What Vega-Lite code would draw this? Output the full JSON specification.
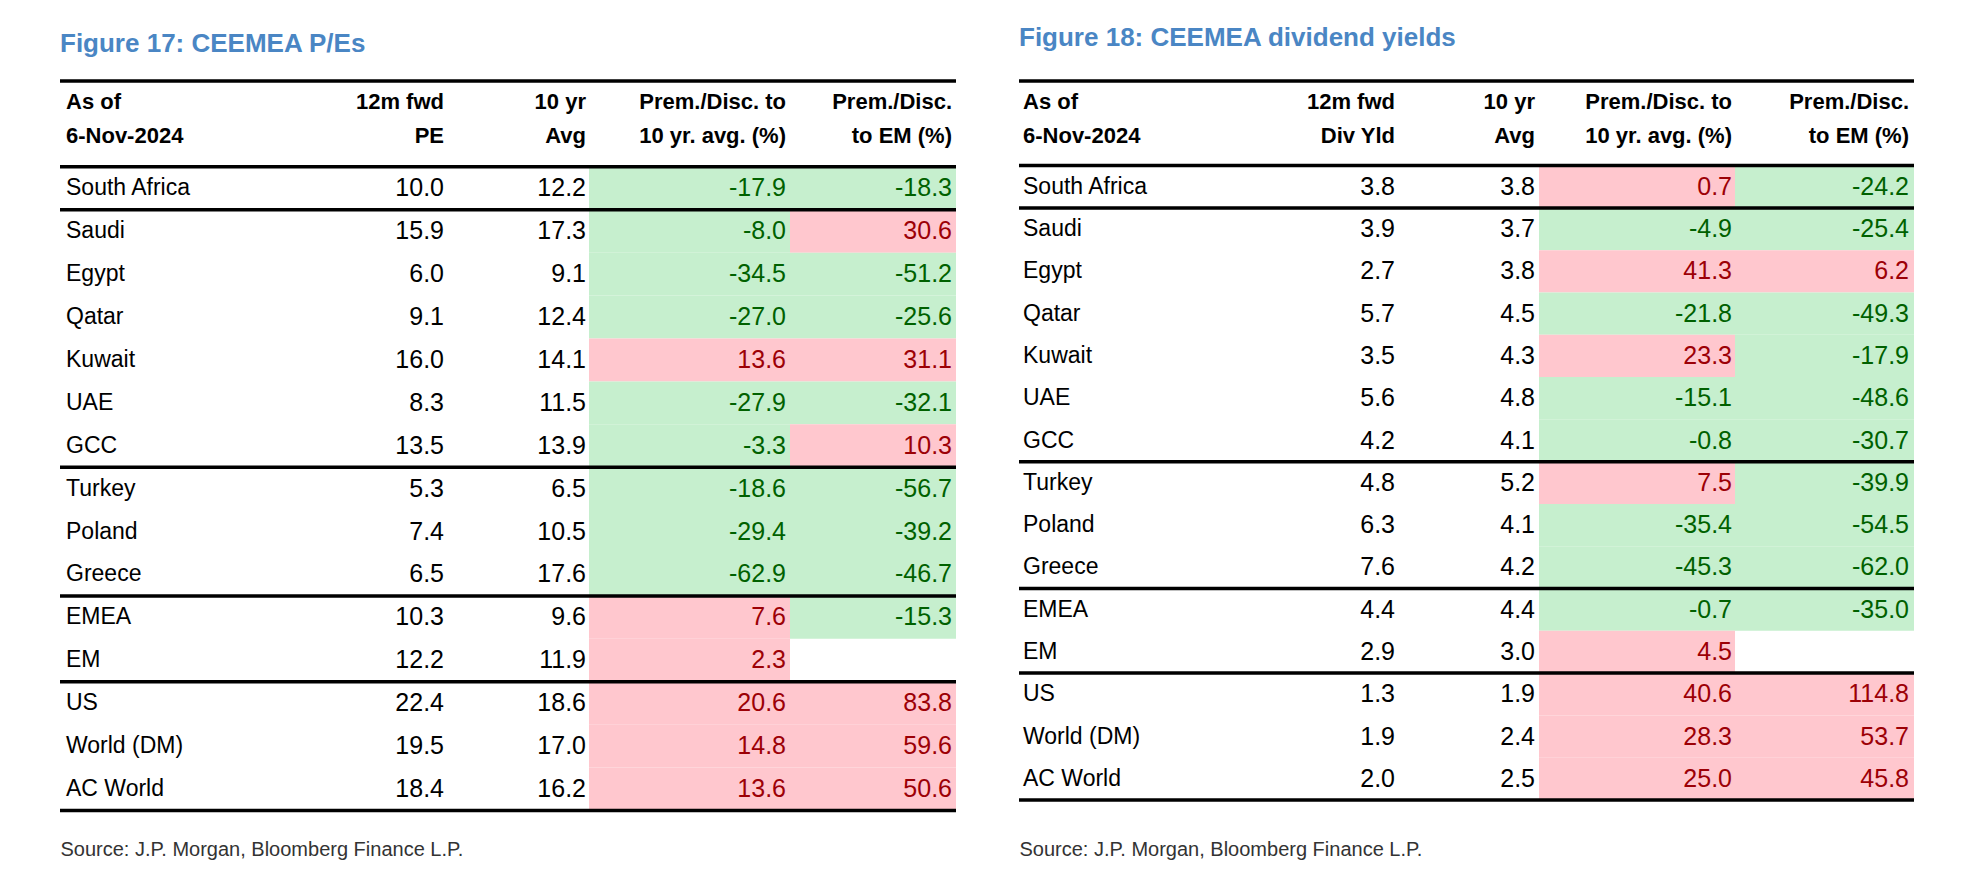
{
  "$schema": "https://vega.github.io/schema/vega-lite/v6.json",
  "background": "white",
  "padding": {"left": 58, "top": 25, "right": 5, "bottom": 5},
  "config": {
    "view": {"stroke": null},
    "font": "Liberation Sans",
    "text": {"font": "Liberation Sans", "fontSize": 25},
    "title": {"font": "Liberation Sans"},
    "axis": {"labelFont": "Liberation Sans", "titleFont": "Liberation Sans"}
  },
  "datasets": {
    "pe": [
      {"country": "South Africa", "fwd": 10.0, "avg": 12.2, "prem10": -17.9, "premEM": -18.3},
      {"country": "Saudi", "fwd": 15.9, "avg": 17.3, "prem10": -8.0, "premEM": 30.6},
      {"country": "Egypt", "fwd": 6.0, "avg": 9.1, "prem10": -34.5, "premEM": -51.2},
      {"country": "Qatar", "fwd": 9.1, "avg": 12.4, "prem10": -27.0, "premEM": -25.6},
      {"country": "Kuwait", "fwd": 16.0, "avg": 14.1, "prem10": 13.6, "premEM": 31.1},
      {"country": "UAE", "fwd": 8.3, "avg": 11.5, "prem10": -27.9, "premEM": -32.1},
      {"country": "GCC", "fwd": 13.5, "avg": 13.9, "prem10": -3.3, "premEM": 10.3},
      {"country": "Turkey", "fwd": 5.3, "avg": 6.5, "prem10": -18.6, "premEM": -56.7},
      {"country": "Poland", "fwd": 7.4, "avg": 10.5, "prem10": -29.4, "premEM": -39.2},
      {"country": "Greece", "fwd": 6.5, "avg": 17.6, "prem10": -62.9, "premEM": -46.7},
      {"country": "EMEA", "fwd": 10.3, "avg": 9.6, "prem10": 7.6, "premEM": -15.3},
      {"country": "EM", "fwd": 12.2, "avg": 11.9, "prem10": 2.3, "premEM": null},
      {"country": "US", "fwd": 22.4, "avg": 18.6, "prem10": 20.6, "premEM": 83.8},
      {"country": "World (DM)", "fwd": 19.5, "avg": 17.0, "prem10": 14.8, "premEM": 59.6},
      {"country": "AC World", "fwd": 18.4, "avg": 16.2, "prem10": 13.6, "premEM": 50.6}
    ],
    "dy": [
      {"country": "South Africa", "fwd": 3.8, "avg": 3.8, "prem10": 0.7, "premEM": -24.2},
      {"country": "Saudi", "fwd": 3.9, "avg": 3.7, "prem10": -4.9, "premEM": -25.4},
      {"country": "Egypt", "fwd": 2.7, "avg": 3.8, "prem10": 41.3, "premEM": 6.2},
      {"country": "Qatar", "fwd": 5.7, "avg": 4.5, "prem10": -21.8, "premEM": -49.3},
      {"country": "Kuwait", "fwd": 3.5, "avg": 4.3, "prem10": 23.3, "premEM": -17.9},
      {"country": "UAE", "fwd": 5.6, "avg": 4.8, "prem10": -15.1, "premEM": -48.6},
      {"country": "GCC", "fwd": 4.2, "avg": 4.1, "prem10": -0.8, "premEM": -30.7},
      {"country": "Turkey", "fwd": 4.8, "avg": 5.2, "prem10": 7.5, "premEM": -39.9},
      {"country": "Poland", "fwd": 6.3, "avg": 4.1, "prem10": -35.4, "premEM": -54.5},
      {"country": "Greece", "fwd": 7.6, "avg": 4.2, "prem10": -45.3, "premEM": -62.0},
      {"country": "EMEA", "fwd": 4.4, "avg": 4.4, "prem10": -0.7, "premEM": -35.0},
      {"country": "EM", "fwd": 2.9, "avg": 3.0, "prem10": 4.5, "premEM": null},
      {"country": "US", "fwd": 1.3, "avg": 1.9, "prem10": 40.6, "premEM": 114.8},
      {"country": "World (DM)", "fwd": 1.9, "avg": 2.4, "prem10": 28.3, "premEM": 53.7},
      {"country": "AC World", "fwd": 2.0, "avg": 2.5, "prem10": 25.0, "premEM": 45.8}
    ],
    "rules": [
      {"row": "h1"},
      {"row": "South Africa"},
      {"row": "Saudi"},
      {"row": "Turkey"},
      {"row": "EMEA"},
      {"row": "US"}
    ],
    "bottom": [{"row": "AC World"}],
    "head": [{"row": "h1"}]
  },
  "bounds": "flush",
  "spacing": 0,
  "resolve": {"scale": {"x": "independent", "y": "independent"}},
  "hconcat": [
    {
      "width": 204, "height": 729.5,
      "title": {"text": "Figure 17: CEEMEA P/Es", "anchor": "start", "fontSize": 26, "fontWeight": "bold", "color": "#4a86c4", "offset": 22, "frame": "group"},
      "layer": [
        {"data": {"name": "pe"}, "mark": {"type": "text", "align": "left", "baseline": "middle", "dx": 6, "fontSize": 23, "color": "#000"},
         "encoding": {"y": {"field": "country", "type": "nominal", "axis": null, "scale": {"domain": ["h1","h2","South Africa","Saudi","Egypt","Qatar","Kuwait","UAE","GCC","Turkey","Poland","Greece","EMEA","EM","US","World (DM)","AC World"], "paddingInner": 0, "paddingOuter": 0}},
           "x": {"datum": 0, "type": "quantitative", "scale": {"domain": [0, 1]},
             "axis": {"orient": "bottom", "labels": false, "ticks": false, "domain": false, "grid": false, "title": "Source: J.P. Morgan, Bloomberg Finance L.P.", "titleAnchor": "start", "titleAlign": "left", "titleBaseline": "top", "titlePadding": 29, "titleFontSize": 20, "titleFontWeight": "normal", "titleColor": "#333"}},
           "text": {"field": "country", "type": "nominal"}}},
        {"data": {"name": "head"}, "mark": {"type": "text", "align": "left", "baseline": "middle", "dx": 6, "fontSize": 22, "lineHeight": 34, "fontWeight": "bold", "color": "#000", "text": ["As of", "6-Nov-2024"]},
         "encoding": {"y": {"field": "row", "type": "nominal", "bandPosition": 0.5}, "x": {"datum": 0, "type": "quantitative"}}},
        {"data": {"name": "rules"}, "mark": {"type": "rule", "strokeWidth": 3.5, "color": "#000"}, "encoding": {"y": {"field": "row", "type": "nominal", "bandPosition": 0}}},
        {"data": {"name": "bottom"}, "mark": {"type": "rule", "strokeWidth": 3.5, "color": "#000"}, "encoding": {"y": {"field": "row", "type": "nominal", "bandPosition": 1}}}
      ]
    },
    {
      "width": 183, "height": 729.5,
      "layer": [
        {"data": {"name": "pe"}, "mark": {"type": "text", "align": "right", "baseline": "middle", "dx": -3, "color": "#000"},
         "encoding": {"y": {"field": "country", "type": "nominal", "axis": null, "scale": {"domain": ["h1","h2","South Africa","Saudi","Egypt","Qatar","Kuwait","UAE","GCC","Turkey","Poland","Greece","EMEA","EM","US","World (DM)","AC World"], "paddingInner": 0, "paddingOuter": 0}},
           "x": {"datum": 1, "type": "quantitative", "axis": null, "scale": {"domain": [0, 1]}},
           "text": {"field": "fwd", "type": "quantitative", "format": ".1f"}}},
        {"data": {"name": "head"}, "mark": {"type": "text", "align": "right", "baseline": "middle", "dx": -3, "fontSize": 22, "lineHeight": 34, "fontWeight": "bold", "color": "#000", "text": ["12m fwd", "PE"]},
         "encoding": {"y": {"field": "row", "type": "nominal", "bandPosition": 0.5}, "x": {"datum": 1, "type": "quantitative"}}},
        {"data": {"name": "rules"}, "mark": {"type": "rule", "strokeWidth": 3.5, "color": "#000"}, "encoding": {"y": {"field": "row", "type": "nominal", "bandPosition": 0}}},
        {"data": {"name": "bottom"}, "mark": {"type": "rule", "strokeWidth": 3.5, "color": "#000"}, "encoding": {"y": {"field": "row", "type": "nominal", "bandPosition": 1}}}
      ]
    },
    {
      "width": 142, "height": 729.5,
      "layer": [
        {"data": {"name": "pe"}, "mark": {"type": "text", "align": "right", "baseline": "middle", "dx": -3, "color": "#000"},
         "encoding": {"y": {"field": "country", "type": "nominal", "axis": null, "scale": {"domain": ["h1","h2","South Africa","Saudi","Egypt","Qatar","Kuwait","UAE","GCC","Turkey","Poland","Greece","EMEA","EM","US","World (DM)","AC World"], "paddingInner": 0, "paddingOuter": 0}},
           "x": {"datum": 1, "type": "quantitative", "axis": null, "scale": {"domain": [0, 1]}},
           "text": {"field": "avg", "type": "quantitative", "format": ".1f"}}},
        {"data": {"name": "head"}, "mark": {"type": "text", "align": "right", "baseline": "middle", "dx": -3, "fontSize": 22, "lineHeight": 34, "fontWeight": "bold", "color": "#000", "text": ["10 yr", "Avg"]},
         "encoding": {"y": {"field": "row", "type": "nominal", "bandPosition": 0.5}, "x": {"datum": 1, "type": "quantitative"}}},
        {"data": {"name": "rules"}, "mark": {"type": "rule", "strokeWidth": 3.5, "color": "#000"}, "encoding": {"y": {"field": "row", "type": "nominal", "bandPosition": 0}}},
        {"data": {"name": "bottom"}, "mark": {"type": "rule", "strokeWidth": 3.5, "color": "#000"}, "encoding": {"y": {"field": "row", "type": "nominal", "bandPosition": 1}}}
      ]
    },
    {
      "width": 201, "height": 729.5,
      "layer": [
        {"data": {"name": "pe"}, "transform": [{"filter": "isValid(datum.prem10)"}], "mark": {"type": "rect"},
         "encoding": {"y": {"field": "country", "type": "nominal", "axis": null, "scale": {"domain": ["h1","h2","South Africa","Saudi","Egypt","Qatar","Kuwait","UAE","GCC","Turkey","Poland","Greece","EMEA","EM","US","World (DM)","AC World"], "paddingInner": 0, "paddingOuter": 0}},
           "x": {"datum": 0, "type": "quantitative", "axis": null, "scale": {"domain": [0, 1]}}, "x2": {"datum": 1},
           "fill": {"condition": {"test": "datum.prem10 < 0", "value": "#c6efce"}, "value": "#ffc7ce"}}},
        {"data": {"name": "pe"}, "transform": [{"filter": "isValid(datum.prem10)"}], "mark": {"type": "text", "align": "right", "baseline": "middle", "dx": -4, "text": {"expr": "replace(format(datum.prem10, '.1f'), '−', '-')"}},
         "encoding": {"y": {"field": "country", "type": "nominal"},
           "x": {"datum": 1, "type": "quantitative"},
           "color": {"condition": {"test": "datum.prem10 < 0", "value": "#006100"}, "value": "#9c0006"}}},
        {"data": {"name": "head"}, "mark": {"type": "text", "align": "right", "baseline": "middle", "dx": -4, "fontSize": 22, "lineHeight": 34, "fontWeight": "bold", "color": "#000", "text": ["Prem./Disc. to", "10 yr. avg. (%)"]},
         "encoding": {"y": {"field": "row", "type": "nominal", "bandPosition": 0.5}, "x": {"datum": 1, "type": "quantitative"}}},
        {"data": {"name": "rules"}, "mark": {"type": "rule", "strokeWidth": 3.5, "color": "#000"}, "encoding": {"y": {"field": "row", "type": "nominal", "bandPosition": 0}}},
        {"data": {"name": "bottom"}, "mark": {"type": "rule", "strokeWidth": 3.5, "color": "#000"}, "encoding": {"y": {"field": "row", "type": "nominal", "bandPosition": 1}}}
      ]
    },
    {
      "width": 166, "height": 729.5,
      "layer": [
        {"data": {"name": "pe"}, "transform": [{"filter": "isValid(datum.premEM)"}], "mark": {"type": "rect"},
         "encoding": {"y": {"field": "country", "type": "nominal", "axis": null, "scale": {"domain": ["h1","h2","South Africa","Saudi","Egypt","Qatar","Kuwait","UAE","GCC","Turkey","Poland","Greece","EMEA","EM","US","World (DM)","AC World"], "paddingInner": 0, "paddingOuter": 0}},
           "x": {"datum": 0, "type": "quantitative", "axis": null, "scale": {"domain": [0, 1]}}, "x2": {"datum": 1},
           "fill": {"condition": {"test": "datum.premEM < 0", "value": "#c6efce"}, "value": "#ffc7ce"}}},
        {"data": {"name": "pe"}, "transform": [{"filter": "isValid(datum.premEM)"}], "mark": {"type": "text", "align": "right", "baseline": "middle", "dx": -4, "text": {"expr": "replace(format(datum.premEM, '.1f'), '−', '-')"}},
         "encoding": {"y": {"field": "country", "type": "nominal"},
           "x": {"datum": 1, "type": "quantitative"},
           "color": {"condition": {"test": "datum.premEM < 0", "value": "#006100"}, "value": "#9c0006"}}},
        {"data": {"name": "head"}, "mark": {"type": "text", "align": "right", "baseline": "middle", "dx": -4, "fontSize": 22, "lineHeight": 34, "fontWeight": "bold", "color": "#000", "text": ["Prem./Disc.", "to EM (%)"]},
         "encoding": {"y": {"field": "row", "type": "nominal", "bandPosition": 0.5}, "x": {"datum": 1, "type": "quantitative"}}},
        {"data": {"name": "rules"}, "mark": {"type": "rule", "strokeWidth": 3.5, "color": "#000"}, "encoding": {"y": {"field": "row", "type": "nominal", "bandPosition": 0}}},
        {"data": {"name": "bottom"}, "mark": {"type": "rule", "strokeWidth": 3.5, "color": "#000"}, "encoding": {"y": {"field": "row", "type": "nominal", "bandPosition": 1}}}
      ]
    },
    {
      "width": 63, "height": 10,
      "data": {"values": []},
      "mark": {"type": "point"}
    },
    {
      "width": 193, "height": 719,
      "title": {"text": "Figure 18: CEEMEA dividend yields", "anchor": "start", "fontSize": 26, "fontWeight": "bold", "color": "#4a86c4", "offset": 28, "frame": "group"},
      "layer": [
        {"data": {"name": "dy"}, "mark": {"type": "text", "align": "left", "baseline": "middle", "dx": 4, "fontSize": 23, "color": "#000"},
         "encoding": {"y": {"field": "country", "type": "nominal", "axis": null, "scale": {"domain": ["h1","h2","South Africa","Saudi","Egypt","Qatar","Kuwait","UAE","GCC","Turkey","Poland","Greece","EMEA","EM","US","World (DM)","AC World"], "paddingInner": 0, "paddingOuter": 0}},
           "x": {"datum": 0, "type": "quantitative", "scale": {"domain": [0, 1]},
             "axis": {"orient": "bottom", "labels": false, "ticks": false, "domain": false, "grid": false, "title": "Source: J.P. Morgan, Bloomberg Finance L.P.", "titleAnchor": "start", "titleAlign": "left", "titleBaseline": "top", "titlePadding": 39, "titleFontSize": 20, "titleFontWeight": "normal", "titleColor": "#333"}},
           "text": {"field": "country", "type": "nominal"}}},
        {"data": {"name": "head"}, "mark": {"type": "text", "align": "left", "baseline": "middle", "dx": 4, "fontSize": 22, "lineHeight": 34, "fontWeight": "bold", "color": "#000", "text": ["As of", "6-Nov-2024"]},
         "encoding": {"y": {"field": "row", "type": "nominal", "bandPosition": 0.5}, "x": {"datum": 0, "type": "quantitative"}}},
        {"data": {"name": "rules"}, "mark": {"type": "rule", "strokeWidth": 3.5, "color": "#000"}, "encoding": {"y": {"field": "row", "type": "nominal", "bandPosition": 0}}},
        {"data": {"name": "bottom"}, "mark": {"type": "rule", "strokeWidth": 3.5, "color": "#000"}, "encoding": {"y": {"field": "row", "type": "nominal", "bandPosition": 1}}}
      ]
    },
    {
      "width": 186, "height": 719,
      "layer": [
        {"data": {"name": "dy"}, "mark": {"type": "text", "align": "right", "baseline": "middle", "dx": -3, "color": "#000"},
         "encoding": {"y": {"field": "country", "type": "nominal", "axis": null, "scale": {"domain": ["h1","h2","South Africa","Saudi","Egypt","Qatar","Kuwait","UAE","GCC","Turkey","Poland","Greece","EMEA","EM","US","World (DM)","AC World"], "paddingInner": 0, "paddingOuter": 0}},
           "x": {"datum": 1, "type": "quantitative", "axis": null, "scale": {"domain": [0, 1]}},
           "text": {"field": "fwd", "type": "quantitative", "format": ".1f"}}},
        {"data": {"name": "head"}, "mark": {"type": "text", "align": "right", "baseline": "middle", "dx": -3, "fontSize": 22, "lineHeight": 34, "fontWeight": "bold", "color": "#000", "text": ["12m fwd", "Div Yld"]},
         "encoding": {"y": {"field": "row", "type": "nominal", "bandPosition": 0.5}, "x": {"datum": 1, "type": "quantitative"}}},
        {"data": {"name": "rules"}, "mark": {"type": "rule", "strokeWidth": 3.5, "color": "#000"}, "encoding": {"y": {"field": "row", "type": "nominal", "bandPosition": 0}}},
        {"data": {"name": "bottom"}, "mark": {"type": "rule", "strokeWidth": 3.5, "color": "#000"}, "encoding": {"y": {"field": "row", "type": "nominal", "bandPosition": 1}}}
      ]
    },
    {
      "width": 141, "height": 719,
      "layer": [
        {"data": {"name": "dy"}, "mark": {"type": "text", "align": "right", "baseline": "middle", "dx": -4, "color": "#000"},
         "encoding": {"y": {"field": "country", "type": "nominal", "axis": null, "scale": {"domain": ["h1","h2","South Africa","Saudi","Egypt","Qatar","Kuwait","UAE","GCC","Turkey","Poland","Greece","EMEA","EM","US","World (DM)","AC World"], "paddingInner": 0, "paddingOuter": 0}},
           "x": {"datum": 1, "type": "quantitative", "axis": null, "scale": {"domain": [0, 1]}},
           "text": {"field": "avg", "type": "quantitative", "format": ".1f"}}},
        {"data": {"name": "head"}, "mark": {"type": "text", "align": "right", "baseline": "middle", "dx": -4, "fontSize": 22, "lineHeight": 34, "fontWeight": "bold", "color": "#000", "text": ["10 yr", "Avg"]},
         "encoding": {"y": {"field": "row", "type": "nominal", "bandPosition": 0.5}, "x": {"datum": 1, "type": "quantitative"}}},
        {"data": {"name": "rules"}, "mark": {"type": "rule", "strokeWidth": 3.5, "color": "#000"}, "encoding": {"y": {"field": "row", "type": "nominal", "bandPosition": 0}}},
        {"data": {"name": "bottom"}, "mark": {"type": "rule", "strokeWidth": 3.5, "color": "#000"}, "encoding": {"y": {"field": "row", "type": "nominal", "bandPosition": 1}}}
      ]
    },
    {
      "width": 196, "height": 719,
      "layer": [
        {"data": {"name": "dy"}, "transform": [{"filter": "isValid(datum.prem10)"}], "mark": {"type": "rect"},
         "encoding": {"y": {"field": "country", "type": "nominal", "axis": null, "scale": {"domain": ["h1","h2","South Africa","Saudi","Egypt","Qatar","Kuwait","UAE","GCC","Turkey","Poland","Greece","EMEA","EM","US","World (DM)","AC World"], "paddingInner": 0, "paddingOuter": 0}},
           "x": {"datum": 0, "type": "quantitative", "axis": null, "scale": {"domain": [0, 1]}}, "x2": {"datum": 1},
           "fill": {"condition": {"test": "datum.prem10 < 0", "value": "#c6efce"}, "value": "#ffc7ce"}}},
        {"data": {"name": "dy"}, "transform": [{"filter": "isValid(datum.prem10)"}], "mark": {"type": "text", "align": "right", "baseline": "middle", "dx": -3, "text": {"expr": "replace(format(datum.prem10, '.1f'), '−', '-')"}},
         "encoding": {"y": {"field": "country", "type": "nominal"},
           "x": {"datum": 1, "type": "quantitative"},
           "color": {"condition": {"test": "datum.prem10 < 0", "value": "#006100"}, "value": "#9c0006"}}},
        {"data": {"name": "head"}, "mark": {"type": "text", "align": "right", "baseline": "middle", "dx": -3, "fontSize": 22, "lineHeight": 34, "fontWeight": "bold", "color": "#000", "text": ["Prem./Disc. to", "10 yr. avg. (%)"]},
         "encoding": {"y": {"field": "row", "type": "nominal", "bandPosition": 0.5}, "x": {"datum": 1, "type": "quantitative"}}},
        {"data": {"name": "rules"}, "mark": {"type": "rule", "strokeWidth": 3.5, "color": "#000"}, "encoding": {"y": {"field": "row", "type": "nominal", "bandPosition": 0}}},
        {"data": {"name": "bottom"}, "mark": {"type": "rule", "strokeWidth": 3.5, "color": "#000"}, "encoding": {"y": {"field": "row", "type": "nominal", "bandPosition": 1}}}
      ]
    },
    {
      "width": 179, "height": 719,
      "layer": [
        {"data": {"name": "dy"}, "transform": [{"filter": "isValid(datum.premEM)"}], "mark": {"type": "rect"},
         "encoding": {"y": {"field": "country", "type": "nominal", "axis": null, "scale": {"domain": ["h1","h2","South Africa","Saudi","Egypt","Qatar","Kuwait","UAE","GCC","Turkey","Poland","Greece","EMEA","EM","US","World (DM)","AC World"], "paddingInner": 0, "paddingOuter": 0}},
           "x": {"datum": 0, "type": "quantitative", "axis": null, "scale": {"domain": [0, 1]}}, "x2": {"datum": 1},
           "fill": {"condition": {"test": "datum.premEM < 0", "value": "#c6efce"}, "value": "#ffc7ce"}}},
        {"data": {"name": "dy"}, "transform": [{"filter": "isValid(datum.premEM)"}], "mark": {"type": "text", "align": "right", "baseline": "middle", "dx": -5, "text": {"expr": "replace(format(datum.premEM, '.1f'), '−', '-')"}},
         "encoding": {"y": {"field": "country", "type": "nominal"},
           "x": {"datum": 1, "type": "quantitative"},
           "color": {"condition": {"test": "datum.premEM < 0", "value": "#006100"}, "value": "#9c0006"}}},
        {"data": {"name": "head"}, "mark": {"type": "text", "align": "right", "baseline": "middle", "dx": -5, "fontSize": 22, "lineHeight": 34, "fontWeight": "bold", "color": "#000", "text": ["Prem./Disc.", "to EM (%)"]},
         "encoding": {"y": {"field": "row", "type": "nominal", "bandPosition": 0.5}, "x": {"datum": 1, "type": "quantitative"}}},
        {"data": {"name": "rules"}, "mark": {"type": "rule", "strokeWidth": 3.5, "color": "#000"}, "encoding": {"y": {"field": "row", "type": "nominal", "bandPosition": 0}}},
        {"data": {"name": "bottom"}, "mark": {"type": "rule", "strokeWidth": 3.5, "color": "#000"}, "encoding": {"y": {"field": "row", "type": "nominal", "bandPosition": 1}}}
      ]
    }
  ]
}
